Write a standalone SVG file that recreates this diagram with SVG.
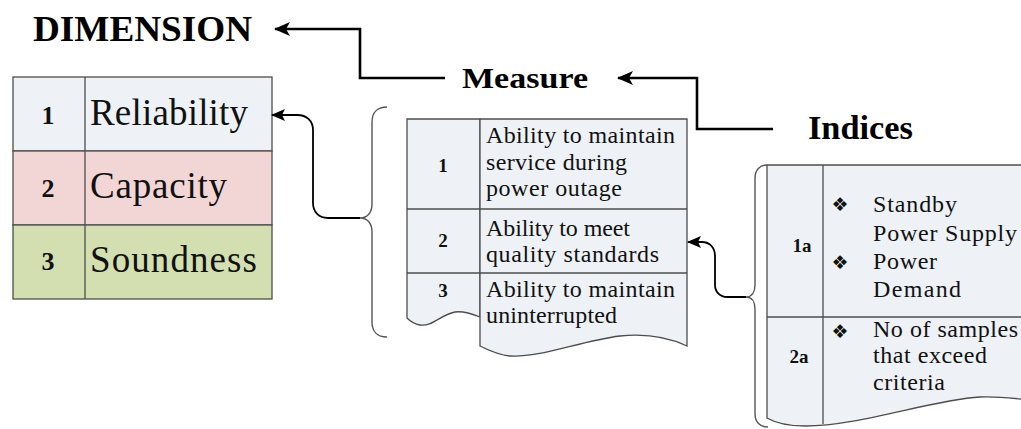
<svg xmlns="http://www.w3.org/2000/svg" width="1021" height="429" viewBox="0 0 1021 429">
  <style>
    .title { font-family: "Liberation Serif", "Times New Roman", serif; font-weight: bold; fill: #000; }
    .big { font-family: "Liberation Serif", "Times New Roman", serif; font-size: 37px; fill: #111; }
    .txt { font-family: "Liberation Serif", "Times New Roman", serif; font-size: 24px; fill: #111; }
    .num { font-family: "Liberation Serif", "Times New Roman", serif; font-weight: bold; fill: #111; text-anchor: middle; }
    .bul { font-family: "DejaVu Sans", sans-serif; font-size: 19px; fill: #111; text-anchor: middle; }
    .cell { stroke: #4d4d4d; stroke-width: 1.3; }
    .grid { fill: none; stroke: #4d4d4d; stroke-width: 1.3; }
    .brace { fill: none; stroke: #555; stroke-width: 1.4; }
    .flow { fill: none; stroke: #000; stroke-width: 2.6; }
    .link { fill: none; stroke: #000; stroke-width: 1.8; }
  </style>
  <defs>
    <marker id="head" markerUnits="userSpaceOnUse" markerWidth="16" markerHeight="14" viewBox="0 0 16 14" refX="15" refY="7" orient="auto">
      <path d="M0 0 L16 7 L0 14 L4 7 Z" fill="#000"/>
    </marker>
    <marker id="headSmall" markerUnits="userSpaceOnUse" markerWidth="14" markerHeight="12" viewBox="0 0 14 12" refX="13" refY="6" orient="auto">
      <path d="M0 0 L14 6 L0 12 L3 6 Z" fill="#000"/>
    </marker>
  </defs>

  <!-- headings -->
  <g id="dimension-title">
    <text class="title" x="33" y="41" font-size="36" textLength="219" lengthAdjust="spacingAndGlyphs">DIMENSION</text>
  </g>
  <g id="measure-title">
    <text class="title" x="462" y="88" font-size="30" textLength="126" lengthAdjust="spacingAndGlyphs">Measure</text>
  </g>
  <g id="indices-title">
    <text class="title" x="808" y="139" font-size="34" textLength="105" lengthAdjust="spacingAndGlyphs">Indices</text>
  </g>

  <!-- dimension table -->
  <g id="dimension-table">
    <rect class="cell" x="13" y="77" width="259" height="74" fill="#eef1f6"/>
    <rect class="cell" x="13" y="151" width="259" height="74" fill="#f2d6d5"/>
    <rect class="cell" x="13" y="225" width="259" height="74" fill="#d3dfb0"/>
    <line class="grid" x1="85" y1="77" x2="85" y2="299"/>
    <text class="num" x="48" y="124" font-size="26">1</text>
    <text class="num" x="48" y="197" font-size="26">2</text>
    <text class="num" x="48" y="270" font-size="26">3</text>
    <text class="big" x="90" y="125" textLength="158" lengthAdjust="spacing">Reliability</text>
    <text class="big" x="90" y="198" textLength="137" lengthAdjust="spacing">Capacity</text>
    <text class="big" x="90" y="272" textLength="167" lengthAdjust="spacing">Soundness</text>
  </g>

  <!-- measure table -->
  <g id="measure-table">
    <path class="cell" fill="#eef1f6" d="M407 119 L480 119 L480 317 C470 313 462 311 455 312 C440 315 432 327 420 325 C414 324 410 321 407 318 Z"/>
    <path class="cell" fill="#eef1f6" d="M480 119 L687 119 L687 346 C670 338 650 333 620 336 C580 341 540 358 510 356 C498 355 488 350 480 346 Z"/>
    <line class="grid" x1="407" y1="209" x2="687" y2="209"/>
    <line class="grid" x1="407" y1="273" x2="687" y2="273"/>
    <text class="num" x="443" y="172" font-size="19">1</text>
    <text class="num" x="443" y="247" font-size="19">2</text>
    <text class="num" x="443" y="297" font-size="19">3</text>
    <text class="txt" x="486" y="143" textLength="189" lengthAdjust="spacing">Ability to maintain</text>
    <text class="txt" x="486" y="170" textLength="141" lengthAdjust="spacing">service during</text>
    <text class="txt" x="486" y="196" textLength="136" lengthAdjust="spacing">power outage</text>
    <text class="txt" x="486" y="236" textLength="144" lengthAdjust="spacing">Ability to meet</text>
    <text class="txt" x="486" y="262" textLength="173" lengthAdjust="spacing">quality standards</text>
    <text class="txt" x="486" y="297" textLength="189" lengthAdjust="spacing">Ability to maintain</text>
    <text class="txt" x="486" y="323" textLength="131" lengthAdjust="spacing">uninterrupted</text>
  </g>

  <!-- indices table -->
  <g id="indices-table">
    <path class="cell" fill="#eef1f6" d="M767 165 L1030 165 L1030 400 C1010 398 995 396 980 397 C930 400 860 426 805 426 C785 426 774 422 767 418 Z"/>
    <line class="grid" x1="823" y1="165" x2="823" y2="424"/>
    <line class="grid" x1="767" y1="317" x2="1030" y2="317"/>
    <text class="num" x="802" y="252" font-size="19">1a</text>
    <text class="num" x="799" y="363" font-size="19">2a</text>
    <text class="bul" x="840" y="211">❖︎</text>
    <text class="bul" x="840" y="269">❖︎</text>
    <text class="bul" x="840" y="338">❖︎</text>
    <text class="txt" x="873" y="212" textLength="84" lengthAdjust="spacing">Standby</text>
    <text class="txt" x="873" y="241" textLength="144" lengthAdjust="spacing">Power Supply</text>
    <text class="txt" x="873" y="269" textLength="64" lengthAdjust="spacing">Power</text>
    <text class="txt" x="873" y="297" textLength="88" lengthAdjust="spacing">Demand</text>
    <text class="txt" x="873" y="337" textLength="145" lengthAdjust="spacing">No of samples</text>
    <text class="txt" x="873" y="363" textLength="114" lengthAdjust="spacing">that exceed</text>
    <text class="txt" x="873" y="390" textLength="72" lengthAdjust="spacing">criteria</text>
  </g>

  <!-- braces grouping the tables -->
  <g id="braces">
    <path class="brace" d="M387 107 C378 107 372 112 372 122 L372 204 C372 212 368 218 360 218 C368 218 372 224 372 232 L372 322 C372 332 378 337 387 337"/>
    <path class="brace" d="M767 165 C760 165 755 170 755 178 L755 285 C755 292 752 297 746 297 C752 297 755 302 755 309 L755 414 C755 422 760 427 768 427"/>
  </g>

  <!-- connectors -->
  <g id="connectors">
    <path class="flow" marker-end="url(#head)" d="M445 78 L360 78 L360 29 L275 29"/>
    <path class="flow" marker-end="url(#head)" d="M773 129 L697 129 L697 78 L618 78"/>
    <path class="link" marker-end="url(#headSmall)" d="M360 218 L328 218 C319 218 313 212 313 203 L313 130 C313 121 307 115 297 115 L272 115"/>
    <path class="link" marker-end="url(#headSmall)" d="M746 297 L727 297 C720 297 715 292 715 285 L715 256 C715 248 710 242 702 242 L688 242"/>
  </g>
</svg>
